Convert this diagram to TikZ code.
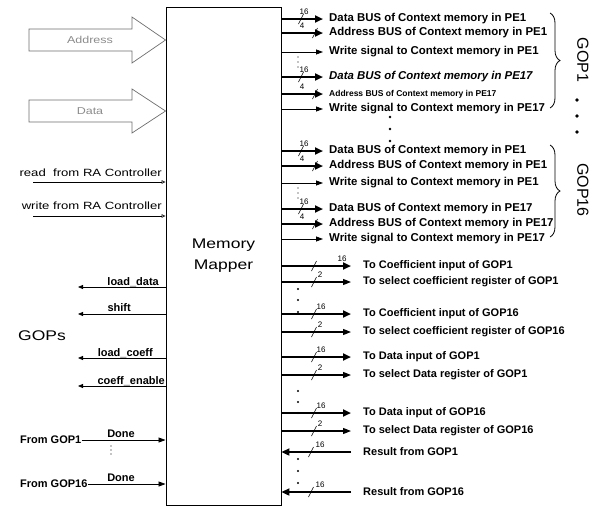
\documentclass[tikz,border=0pt]{standalone}
\usepackage{fontspec}
\setmainfont{Liberation Sans}
\newfontfamily\scanfont[FakeStretch=1.25]{Liberation Sans}
\usepackage{tikz}
\usetikzlibrary{arrows.meta,positioning,decorations.pathreplacing}
\definecolor{cinzaseta}{HTML}{6E6E6E}
\definecolor{cinzatexto}{HTML}{8C8C8C}
\newcommand{\bitmark}[5]{%
  \draw[line width=0.6pt] (#2-2.5,#3+5) -- (#2+2.5,#3-5);
  \node[bitlbl] (#1) at (#4,#3-7.5) {#5};}

\begin{document}
\begin{tikzpicture}[x=1pt,y=-1pt,
    every node/.style={inner sep=0pt, font=\bfseries\fontsize{11}{13}\selectfont},
    ctx/.style={anchor=west, inner xsep=6pt, font=\bfseries\fontsize{11.4}{13}\selectfont},
    gop/.style={anchor=west, inner xsep=12pt},
    bitlbl/.style={font=\fontsize{8}{9}\selectfont},
    lefttxt/.style={font=\scanfont\fontsize{10.5}{12}\selectfont},
    bus/.style={line width=2.2pt, -{Triangle[length=8pt,width=7pt]}},
    bus2/.style={line width=1.3pt, -{Triangle[length=8pt,width=6pt]}},
    sig/.style={line width=0.8pt, -{Triangle[length=7pt,width=5pt]}},
    ctl/.style={line width=0.6pt, -{Triangle[open,length=4pt,width=3.5pt]}},
    outsig/.style={line width=0.8pt, -{Triangle[length=5pt,width=4pt]}},
    bigarrow/.style={draw=cinzaseta, line width=0.7pt, fill=white}]
    \useasboundingbox (0,0) rectangle (603,507);
    \node[draw, line width=0.9pt, minimum width=115pt, minimum height=498pt, align=center, font=\scanfont\fontsize{14}{21}\selectfont] (mapper) at (223.5,256) {Memory\\Mapper};

    \draw[bigarrow] (29,29) -- (132,29) -- (132,17) -- (mapper.west |- 0,40) -- (132,63) -- (132,51) -- (29,51) -- cycle;
    \node[lefttxt, font=\scanfont\fontsize{10}{12}\selectfont, text=cinzatexto] (addr) at (90,40) {Address};
    \draw[bigarrow] (29,100) -- (132,100) -- (132,89) -- (mapper.west |- 0,111) -- (132,133) -- (132,122) -- (29,122) -- cycle;
    \node[lefttxt, font=\scanfont\fontsize{10}{12}\selectfont, text=cinzatexto] (data) at (90,111) {Data};

    \node[lefttxt, anchor=south east] (rd) at (162,177) {read\ \ from RA Controller};
    \coordinate (rdL) at (33,182);
    \draw[ctl] (rdL) -- (mapper.west |- rdL);
    \node[lefttxt, anchor=south east] (wr) at (162,210) {write from RA Controller};
    \coordinate (wrL) at (33,216);
    \draw[ctl] (wrL) -- (mapper.west |- wrL);

    \node[anchor=base east] (ld) at (159,285) {load\_data};
    \coordinate (ldL) at (78,287);
    \draw[outsig] (mapper.west |- ldL) -- (ldL);
    \node[anchor=base east] (sh) at (131,311) {shift};
    \coordinate (shL) at (78,314);
    \draw[outsig] (mapper.west |- shL) -- (shL);
    \node[font=\scanfont\fontsize{14}{16}\selectfont] (gops) at (42,336) {GOPs};
    \node[anchor=base east] (lc) at (153,356) {load\_coeff};
    \coordinate (lcL) at (78,358);
    \draw[outsig] (mapper.west |- lcL) -- (lcL);
    \node[anchor=base east] (ce) at (165,384) {coeff\_enable};
    \coordinate (ceL) at (78,386);
    \draw[outsig] (mapper.west |- ceL) -- (ceL);

    \node[anchor=west] (fg1) at (20,440) {From GOP1};
    \node[anchor=base] (dn1) at (121,437) {Done};
    \draw[sig] (fg1.east) -- (mapper.west |- fg1.east);
    \foreach \y in {446,450,454} \fill (111,\y) circle (0.6);
    \node[anchor=west] (fg16) at (20,484) {From GOP16};
    \node[anchor=base] (dn16) at (121,481) {Done};
    \draw[sig] (fg16.east) -- (mapper.west |- fg16.east);

    \node[ctx] (r1) at (323,19) {Data BUS of Context memory in PE1};
    \node[ctx] (r2) at (323,33) {Address BUS of Context memory in PE1};
    \node[ctx] (r3) at (323,52) {Write signal to Context memory in PE1};
    \node[ctx, font=\bfseries\itshape\fontsize{11.4}{13}\selectfont] (r4) at (323,77) {Data BUS of Context memory in PE17};
    \node[ctx, font=\bfseries\fontsize{8.5}{10}\selectfont] (r5) at (323,94) {Address BUS of Context memory in PE17};
    \node[ctx] (r6) at (323,109) {Write signal to Context memory in PE17};
    \node[ctx] (r7) at (323,151) {Data BUS of Context memory in PE1};
    \node[ctx] (r8) at (323,166) {Address BUS of Context memory in PE1};
    \node[ctx] (r9) at (323,183) {Write signal to Context memory in PE1};
    \node[ctx] (r10) at (323,209) {Data BUS of Context memory in PE17};
    \node[ctx] (r11) at (323,224) {Address BUS of Context memory in PE17};
    \node[ctx] (r12) at (323,239) {Write signal to Context memory in PE17};
    \draw[bus] (mapper.east |- r1.west) -- (r1.west);
    \draw[bus] (mapper.east |- r2.west) -- (r2.west);
    \draw[sig] (mapper.east |- r3.west) -- (r3.west);
    \draw[bus] (mapper.east |- r4.west) -- (r4.west);
    \draw[bus] (mapper.east |- r5.west) -- (r5.west);
    \draw[sig] (mapper.east |- r6.west) -- (r6.west);
    \draw[bus] (mapper.east |- r7.west) -- (r7.west);
    \draw[bus] (mapper.east |- r8.west) -- (r8.west);
    \draw[sig] (mapper.east |- r9.west) -- (r9.west);
    \draw[bus] (mapper.east |- r10.west) -- (r10.west);
    \draw[bus] (mapper.east |- r11.west) -- (r11.west);
    \draw[sig] (mapper.east |- r12.west) -- (r12.west);
    \bitmark{b1}{301}{19}{304}{16}
    \bitmark{b2}{315}{33}{302}{4}
    \bitmark{b4}{301}{77}{304}{16}
    \bitmark{b5}{315}{94}{302}{4}
    \bitmark{b7}{301}{151}{304}{16}
    \bitmark{b8}{315}{166}{302}{4}
    \bitmark{b10}{301}{209}{304}{16}
    \bitmark{b11}{315}{224}{302}{4}
    \foreach \y in {57,62,67,188,193,198} \fill (298,\y) circle (0.6);
    \foreach \y in {117,129,141} \fill (390,\y) circle (1.3);

    \draw[decorate, decoration={brace, amplitude=10pt}, line width=0.8pt] (550,13) -- (550,108);
    \node[font=\fontsize{16}{18}\selectfont, rotate=-90] (g1) at (583,60) {GOP1};
    \foreach \y in {100,116,132} \fill (577,\y) circle (1.8);
    \draw[decorate, decoration={brace, amplitude=10pt}, line width=0.8pt] (550,145) -- (550,237);
    \node[font=\fontsize{16}{18}\selectfont, rotate=-90] (g16) at (583,190) {GOP16};

    \node[gop] (r13) at (351,266) {To Coefficient input of GOP1};
    \node[gop] (r14) at (351,282) {To select coefficient register of GOP1};
    \node[gop] (r15) at (351,314) {To Coefficient input of GOP16};
    \node[gop] (r16) at (351,332) {To select coefficient register of GOP16};
    \node[gop] (r17) at (351,357) {To Data input of GOP1};
    \node[gop] (r18) at (351,375) {To select Data register of GOP1};
    \node[gop] (r19) at (351,413) {To Data input of GOP16};
    \node[gop] (r20) at (351,431) {To select Data register of GOP16};
    \node[gop] (r21) at (351,452) {Result from GOP1};
    \node[gop] (r22) at (351,492) {Result from GOP16};
    \draw[bus] (mapper.east |- r13.west) -- (r13.west);
    \draw[bus2] (mapper.east |- r14.west) -- (r14.west);
    \draw[bus] (mapper.east |- r15.west) -- (r15.west);
    \draw[bus2] (mapper.east |- r16.west) -- (r16.west);
    \draw[bus] (mapper.east |- r17.west) -- (r17.west);
    \draw[bus2] (mapper.east |- r18.west) -- (r18.west);
    \draw[bus] (mapper.east |- r19.west) -- (r19.west);
    \draw[bus2] (mapper.east |- r20.west) -- (r20.west);
    \draw[bus] (r21.west) -- (mapper.east |- r21.west);
    \draw[bus] (r22.west) -- (mapper.east |- r22.west);
    \bitmark{b13}{314}{266}{342}{16}
    \bitmark{b14}{314}{282}{320}{2}
    \bitmark{b15}{314}{314}{321}{16}
    \bitmark{b16}{314}{332}{320}{2}
    \bitmark{b17}{314}{357}{321}{16}
    \bitmark{b18}{314}{375}{320}{2}
    \bitmark{b19}{314}{413}{321}{16}
    \bitmark{b20}{314}{431}{320}{2}
    \bitmark{b21}{311}{452}{320}{16}
    \bitmark{b22}{311}{492}{320}{16}
    \foreach \y in {289,300,312,391,402,413,459,471,483} \fill (298,\y) circle (1.2);
\end{tikzpicture}
\end{document}
